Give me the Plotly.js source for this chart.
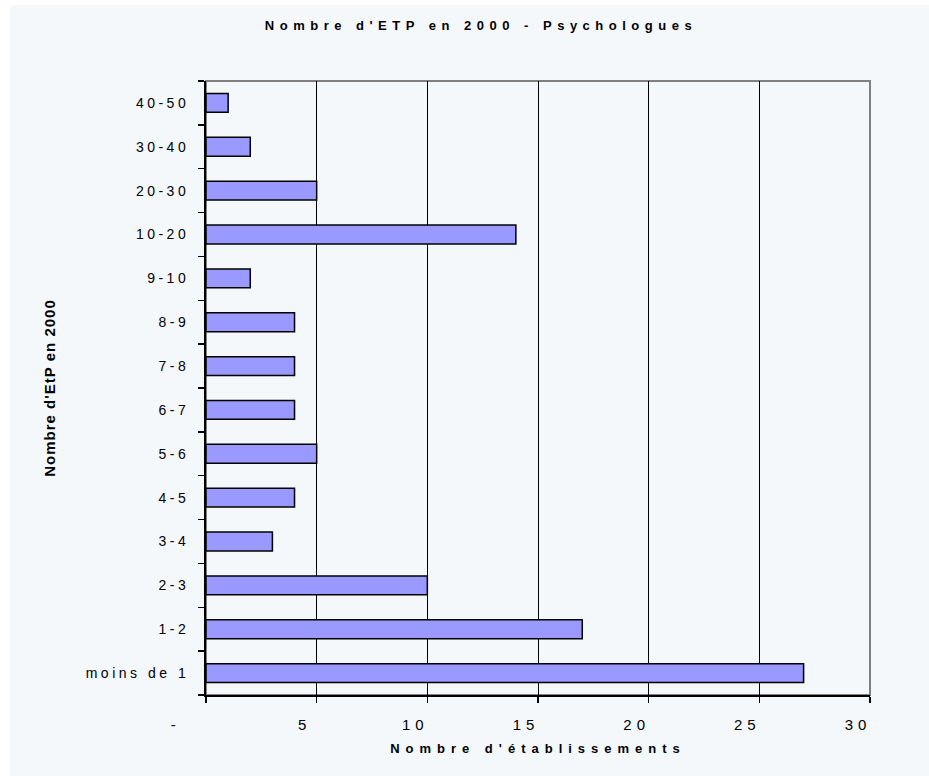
<!DOCTYPE html>
<html>
<head>
<meta charset="utf-8">
<script src="https://cdn.plot.ly/plotly-3.0.1.min.js"></script>
<style>
  html, body { margin: 0; padding: 0; background: #ffffff; }
  #chart { position: absolute; left: 10px; top: 5px; width: 919px; height: 771px; }
  .gtitle { letter-spacing: 5.5px; }
  .xtitle { letter-spacing: 6px; }
  .ytitle { letter-spacing: 1px; }
  .xtick text { letter-spacing: 5px; }
  .ytick text { letter-spacing: 3.5px; }
</style>
</head>
<body>
<div id="chart"></div>
<script>
const categories = ["moins de 1", "1-2", "2-3", "3-4", "4-5", "5-6", "6-7", "7-8", "8-9", "9-10", "10-20", "20-30", "30-40", "40-50"];
const counts = [27, 17, 10, 3, 4, 5, 4, 4, 4, 2, 14, 5, 2, 1];
const xTickVals = [0, 5, 10, 15, 20, 25, 30];
const xTickText = ["-\u00a0\u00a0\u00a0\u00a0", "5", "10", "15", "20", "25", "30"];

const bg = "rgb(244,248,251)";
const font = "Liberation Sans, Arial, sans-serif";

const trace = {
  type: "bar",
  orientation: "h",
  y: categories,
  x: counts,
  width: 0.43,
  marker: { color: "#9999ff", line: { color: "#000000", width: 1.5 } },
  hoverinfo: "x+y"
};

const layout = {
  width: 919,
  height: 771,
  paper_bgcolor: bg,
  plot_bgcolor: bg,
  margin: { l: 196, r: 59, t: 76, b: 81, pad: 0 },
  showlegend: false,
  font: { family: font, color: "#000000", size: 13 },
  title: {
    text: "<b>Nombre d'ETP en 2000 - Psychologues</b>",
    font: { family: font, size: 13, color: "#000000" },
    x: 0.5125, xref: "container", xanchor: "center",
    y: 0.973, yref: "container", yanchor: "middle"
  },
  xaxis: {
    range: [0, 30],
    tickvals: xTickVals,
    ticktext: xTickText,
    tickfont: { family: font, size: 15, color: "#000000" },
    ticks: "outside", ticklen: 6, tickwidth: 1.5, tickcolor: "#000000",
    ticklabelshift: -12,
    ticklabelstandoff: 9,
    showgrid: true, gridcolor: "#000000", gridwidth: 1,
    showline: true, linecolor: "#000000", linewidth: 2,
    zeroline: false,
    fixedrange: true,
    title: { text: "<b>Nombre d'établissements</b>", font: { family: font, size: 13, color: "#000000" }, standoff: 12 }
  },
  yaxis: {
    type: "category",
    categoryorder: "array",
    categoryarray: categories,
    range: [-0.5, categories.length - 0.5],
    tickson: "boundaries",
    ticks: "outside", ticklen: 6, tickwidth: 1.5, tickcolor: "#000000",
    tickfont: { family: font, size: 14, color: "#000000" },
    ticklabelstandoff: 12,
    showgrid: false,
    showline: true, linecolor: "#000000", linewidth: 2,
    zeroline: false,
    fixedrange: true,
    title: { text: "<b>Nombre d'EtP en 2000</b>", font: { family: font, size: 15, color: "#000000" }, standoff: 26 }
  },
  shapes: [
    { type: "rect", xref: "paper", yref: "paper", x0: 0, x1: 1, y0: 0, y1: 1,
      line: { color: "#808080", width: 2 }, fillcolor: "rgba(0,0,0,0)", layer: "below" }
  ]
};

Plotly.newPlot("chart", [trace], layout, { displayModeBar: false, staticPlot: true });
</script>
</body>
</html>
